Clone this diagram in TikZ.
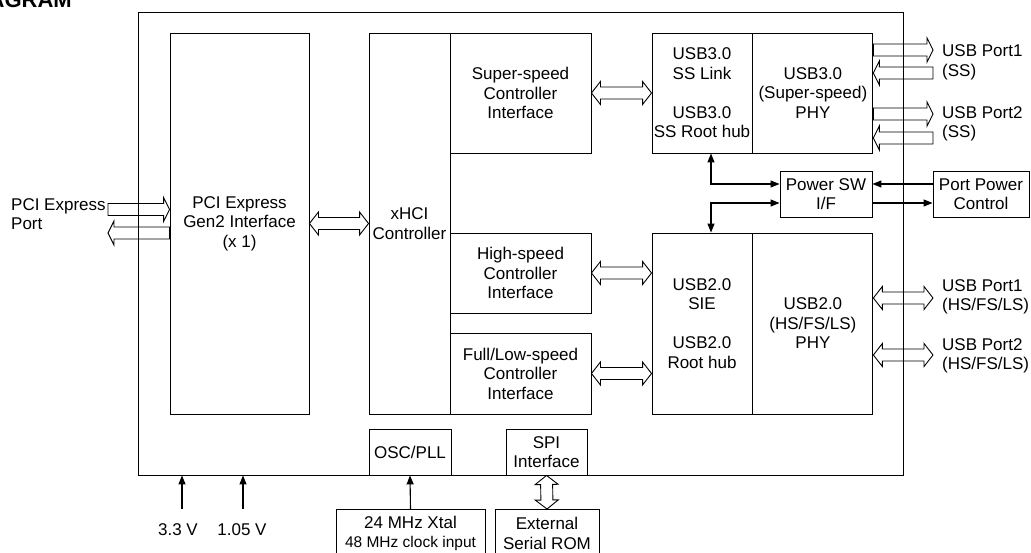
\documentclass[tikz,border=0pt]{standalone}
\usepackage{fontspec}
\setmainfont{Liberation Sans}
\usetikzlibrary{arrows.meta}
\usetikzlibrary{calc}
\usetikzlibrary{positioning}
\tikzset{
  % plain block with centred text
  blk/.style = {
    draw = black,
    line width = 0.9pt,
    inner xsep = 1pt,
    inner ysep = 2pt,
    align = center
  },
  % free text
  lbl/.style = {
    inner sep = 0,
    align = left
  },
  % thin signal line
  sig/.style = {
    draw = black,
    line width = 1.1pt,
    > = {Triangle[length=9pt,width=7pt]}
  },
  % hollow bus arrow with one head
  fat arrow/.style = {
    draw = black,
    line width = 0.9pt,
    to path = {
      let \p1 = (\tikztostart), \p2 = (\tikztotarget),
          \p3 = ($(\p2)!6pt!(\p1)$) in
      ($(\p1)!6pt!90:(\p2)$) -- ($(\p3)!6pt!90:(\p2)$)
      -- ($(\p3)!12pt!90:(\p2)$) -- (\p2)
      -- ($(\p3)!12pt!-90:(\p2)$) -- ($(\p3)!6pt!-90:(\p2)$)
      -- ($(\p1)!6pt!-90:(\p2)$) -- cycle
    }
  },
  % hollow bus arrow with two heads
  fat double/.style = {
    draw = black,
    line width = 0.9pt,
    to path = {
      let \p1 = (\tikztostart), \p2 = (\tikztotarget),
          \p3 = ($(\p2)!9pt!(\p1)$), \p4 = ($(\p1)!9pt!(\p2)$) in
      (\p1) -- ($(\p4)!11.5pt!90:(\p2)$) -- ($(\p4)!6pt!90:(\p2)$)
      -- ($(\p3)!6pt!90:(\p2)$) -- ($(\p3)!11.5pt!90:(\p2)$) -- (\p2)
      -- ($(\p3)!11.5pt!-90:(\p2)$) -- ($(\p3)!6pt!-90:(\p2)$)
      -- ($(\p4)!6pt!-90:(\p2)$) -- ($(\p4)!11.5pt!-90:(\p2)$) -- cycle
    }
  },
  every node/.style = {
    font = \fontsize{17}{19.5}\selectfont
  }
}

\begin{document}
\begin{tikzpicture}[x=1pt, y=-1pt]
    \useasboundingbox (0,0) rectangle (1031,553);

    \node[font=\bfseries\fontsize{22}{22}\selectfont, anchor=base east, inner sep=0] (title) at (72,8) {BLOCK DIAGRAM};

    % chip outline and inner blocks
    \node[blk, minimum width=765pt, minimum height=463pt] (chip) at (520.5,243.5) {};
    \node[blk, minimum width=139pt, minimum height=381pt] (pcie) at (239.5,223.5) {PCI Express\\Gen2 Interface\\(x 1)};
    \node[blk, minimum width=81pt, minimum height=381pt] (xhci) at (409.5,223.5) {xHCI\\Controller};
    \node[blk, minimum width=141pt, minimum height=120pt] (ssci) at (520.5,93) {Super-speed\\Controller\\Interface};
    \node[blk, minimum width=141pt, minimum height=80pt] (hsci) at (520.5,273) {High-speed\\Controller\\Interface};
    \node[blk, minimum width=141pt, minimum height=81pt] (flci) at (520.5,373.5) {Full/Low-speed\\Controller\\Interface};
    \node[blk, minimum width=100pt, minimum height=120pt] (usb3link) at (702,93) {USB3.0\\SS Link\\[19.5pt]USB3.0\\SS Root hub};
    \node[blk, minimum width=120pt, minimum height=120pt] (usb3phy) [right=0pt of usb3link] {USB3.0\\(Super-speed)\\PHY};
    \node[blk, minimum width=92pt, minimum height=46pt] (pwrsw) at (826,194) {Power SW\\I/F};
    \node[blk, minimum width=96pt, minimum height=46pt] (ppc) at (981,194) {Port Power\\Control};
    \node[blk, minimum width=100pt, minimum height=181pt] (usb2sie) at (702,323.5) {USB2.0\\SIE\\[19.5pt]USB2.0\\Root hub};
    \node[blk, minimum width=120pt, minimum height=181pt] (usb2phy) [right=0pt of usb2sie] {USB2.0\\(HS/FS/LS)\\PHY};
    \node[blk, minimum width=82pt, minimum height=46pt] (osc) at (410,452) {OSC/PLL};
    \node[blk, minimum width=81pt, minimum height=46pt] (spi) at (546.5,452) {SPI\\Interface};
    \node[blk, anchor=north, minimum width=149pt, minimum height=48pt] (xtal) at (410.5,509) {24 MHz Xtal\\{\fontsize{15.5}{19.5}\selectfont 48 MHz clock input}};
    \node[blk, anchor=north, minimum width=104pt, minimum height=48pt] (rom) at (547,509) {External\\Serial ROM};

    % outside labels
    \node[lbl, anchor=west] (pcieport) at (11,214) {PCI Express\\Port};
    \node[lbl, anchor=west] (ss1lbl) at (942,62.5) {USB Port1\\(SS)};
    \node[lbl, anchor=west] (ss2lbl) at (942,124) {USB Port2\\(SS)};
    \node[lbl, anchor=west] (hs1lbl) at (942,297) {USB Port1\\(HS/FS/LS)};
    \node[lbl, anchor=west] (hs2lbl) at (942,356) {USB Port2\\(HS/FS/LS)};
    \node[lbl] (v33) at (178,530) {3.3 V};
    \node[lbl] (v105) at (242,530) {1.05 V};

    % free ends
    \coordinate (pcie-rx) at (108,209.5);
    \coordinate (pcie-tx) at (108,233);
    \coordinate (ss1-tx) at (933,50);
    \coordinate (ss1-rx) at (933,73);
    \coordinate (ss2-tx) at (933,114);
    \coordinate (ss2-rx) at (933,138);
    \coordinate (hs1) at (933,298);
    \coordinate (hs2) at (933,355);
    \coordinate (v33-in) at (182,509);
    \coordinate (v105-in) at (243,509);

    % bus arrows
    \draw[fat arrow] (pcie-rx) to (pcie.west |- pcie-rx);
    \draw[fat arrow] (pcie.west |- pcie-tx) to (pcie-tx);
    \draw[fat double] (pcie.east) to (xhci.west);
    \draw[fat double] (ssci.east) to (usb3link.west);
    \draw[fat double] (hsci.east) to (usb2sie.west |- hsci.east);
    \draw[fat double] (flci.east) to (usb2sie.west |- flci.east);
    \draw[fat arrow] (usb3phy.east |- ss1-tx) to (ss1-tx);
    \draw[fat arrow] (ss1-rx) to (usb3phy.east |- ss1-rx);
    \draw[fat arrow] (usb3phy.east |- ss2-tx) to (ss2-tx);
    \draw[fat arrow] (ss2-rx) to (usb3phy.east |- ss2-rx);
    \draw[fat double] (usb2phy.east |- hs1) to (hs1);
    \draw[fat double] (usb2phy.east |- hs2) to (hs2);
    \draw[fat double] (spi.south) to (rom.north);

    % signal lines
    \draw[sig, <->] ([xshift=9pt]usb3link.south) |- ([yshift=10pt]pwrsw.west);
    \draw[sig, <->] ([yshift=-9pt]pwrsw.west) -| ([xshift=9pt]usb2sie.north);
    \draw[sig, ->] ([yshift=10pt]ppc.west) -- ([yshift=10pt]pwrsw.east);
    \draw[sig, ->] ([yshift=-9pt]pwrsw.east) -- ([yshift=-9pt]ppc.west);
    \draw[sig, ->] (xtal.north) -- (osc.south);
    \draw[sig, ->] (v33-in) -- (v33-in |- chip.south);
    \draw[sig, ->] (v105-in) -- (v105-in |- chip.south);
\end{tikzpicture}
\end{document}
